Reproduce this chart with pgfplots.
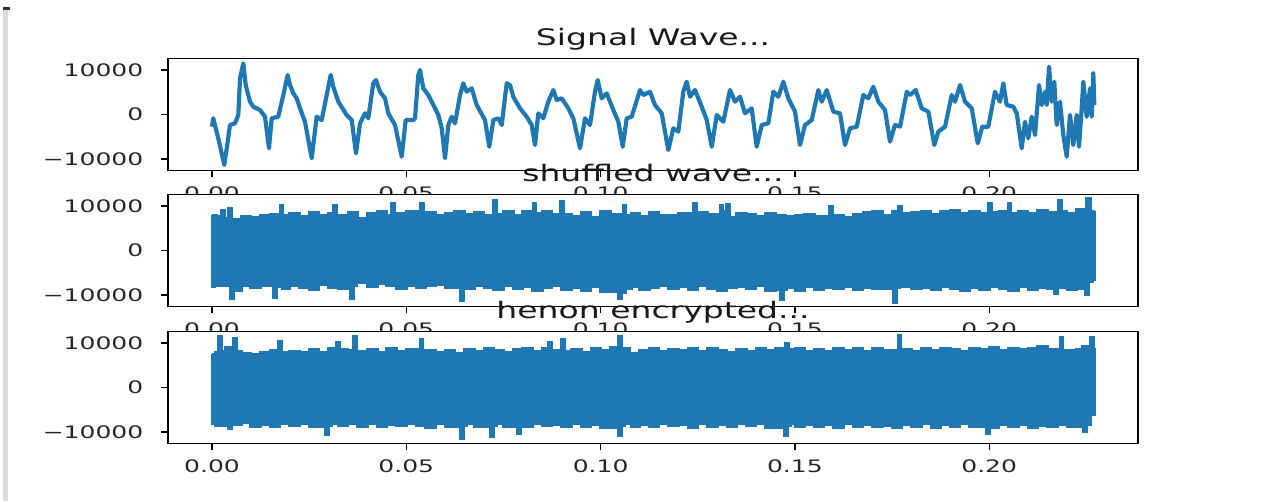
\documentclass[border=0pt]{standalone}
\usepackage{fontspec}
\setmainfont{DejaVu Sans}[FakeStretch=1.45]
\usepackage{pgfplots}
\pgfplotsset{compat=1.18}
\definecolor{mplblue}{HTML}{1F77B4}

% one strip of the figure, positions in pt (1 px = 0.36pt)
\pgfplotsset{panel/.style={
  scale only axis, width=349.2pt, height=40.32pt, anchor=south west,
  xmin=-11.32, xmax=238.29, ymin=-12584, ymax=12584,
  scaled ticks=false,
  xtick={0,50,100,150,200}, xticklabels={0.00,0.05,0.10,0.15,0.20},
  ytick={-10000,0,10000}, yticklabels={−10000,0,10000},
  tick align=outside, tick pos=left, major tick length=2.4pt,
  tick style={black, line width=0.5pt},
  axis line style={line width=0.6pt},
  ticklabel style={font=\fontsize{6.2}{7}\selectfont, text=black!85},
  yticklabel style={xshift=-3pt},
  every axis title/.style={at={(0.5,1)}, anchor=base, yshift=4.8pt,
    font=\fontsize{8.2}{10}\selectfont, text=black!90},
  axis background/.style={fill=white},
}}

\begin{document}
\begin{tikzpicture}
\useasboundingbox (0,0) rectangle (460.08pt,180.36pt);
\fill[black!14] (1.2pt,0) rectangle (3.0pt,176.8pt);
\fill[black!80] (1.2pt,176.8pt) rectangle (3.6pt,177.9pt);

% --- original signal (time in ms) ---
\begin{axis}[panel, at={(60.48pt,118.98pt)}, title={Signal Wave...}]
\addplot[mplblue, line width=1.5pt, line join=round] coordinates {
(0,-2740) (0.33,-850) (1.62,-5350) (3.17,-11350) (4.04,-6100) (4.63,-2360)
(5.92,-1980) (6.77,-110) (7.21,8130) (8.05,11500) (8.67,6630) (9.78,2880)
(10.63,1750) (12.35,1010) (13.64,-490) (14.67,-7600) (15.36,-850) (17.06,-490)
(18.35,4380) (19.48,8880) (20.07,6630) (20.92,4760) (21.80,3640) (22.65,1390)
(23.93,-1620) (25.66,-9840) (26.94,-490) (28.23,-1240) (29.52,4380) (30.55,8880)
(31.21,6250) (32.50,2880) (34.66,-110) (35.95,-1240) (37.06,-8720) (38.09,-1980)
(39.37,270) (40.22,-850) (41.51,7010) (42.20,7750) (43.23,5120) (44.52,3640)
(45.37,270) (47.09,-2360) (48.82,-9480) (49.85,-1240) (51.80,-1240)
(52.24,-850) (53.09,8880) (53.53,10000) (54.38,5890) (55.67,4380) (56.96,2130)
(58.24,-110) (59.12,-3100) (59.97,-9840) (60.82,-2360) (61.69,-490) (62.54,-1980)
(63.83,4380) (64.67,7010) (65.55,5120) (66.83,5890) (68.12,2130) (70.25,-1240)
(71.36,-7240) (72.39,-1240) (73.68,-850) (74.55,-2360) (75.84,7010) (76.69,6630)
(77.53,4000) (79.26,1390) (80.98,-490) (82.27,-2360) (83.12,-6850) (83.97,270)
(85.26,-850) (86.54,2880) (87.83,5500) (88.71,3260) (89.99,3640) (91.69,1390)
(92.98,-850) (94.70,-7600) (95.99,-850) (97.27,-2360) (98.56,5120) (99.25,7750)
(100.28,3640) (101.57,4760) (103.27,1010) (104.56,-1620) (105.69,-7240) (106.72,-850)
(108.00,-490) (110.14,5500) (110.99,4380) (112.71,5120) (114.0,2130) (115.72,270)
(117.42,-7980) (118.71,-3100) (119.99,-3860) (121.28,5120) (122.16,7370) (123.01,4000)
(124.29,5500) (126.02,1750) (127.31,-1240) (128.59,-7240) (129.88,-110) (131.58,-1620)
(133.30,5500) (134.59,2880) (135.87,4000) (137.16,270) (138.88,1390) (140.17,-7240)
(141.46,-2360) (143.16,-1980) (144.44,5120) (145.73,4000) (147.02,7370) (148.31,3640)
(150.03,630) (151.31,-6850) (152.60,-2360) (154.33,-1240) (156.03,5500) (156.90,2880)
(158.19,5500) (159.89,630) (161.61,270) (162.89,-6850) (164.18,-3100) (165.91,-2740)
(167.60,4380) (168.89,3640) (170.18,6250) (171.47,2880) (173.19,1010) (174.47,-6100)
(175.76,-2360) (177.06,-2700) (178.79,5120) (179.62,4380) (181.09,5500) (182.63,1390)
(184.33,630) (185.88,-6850) (186.91,-3860) (188.63,-2740) (190.35,4380) (191.21,2880)
(192.49,6630) (193.78,2880) (195.50,1390) (197.04,-6470) (198.22,-2740) (199.77,-2740)
(201.49,5120) (202.78,2880) (203.63,7010) (204.50,2130) (206.20,1750) (207.08,270)
(208.36,-7600) (209.21,-1620) (210.06,-5350) (210.94,-490) (211.79,-4610) (212.82,6630)
(213.51,2130) (214.36,5120) (214.80,2130) (215.39,10740) (216.08,2880) (216.75,7370)
(217.37,-2360) (218.22,2880) (219.06,-4610) (219.94,-9480) (220.79,-110) (221.64,-6850)
(222.51,-110) (223.11,-7240) (223.80,1390) (224.22,7370) (225.08,-490) (225.94,5890)
(226.37,-490) (226.79,9260) (227.05,2130)
};
\end{axis}

% --- shuffled wave: dense trace drawn as its envelope (upper left->right, lower right->left) ---
\begin{axis}[panel, at={(60.48pt,70.02pt)}, title={shuffled wave...}]
\addplot[mplblue, fill=mplblue, line width=1pt, const plot] coordinates {
(0,7900) (1.2,7600) (2.5,9100) (3.2,7200) (4.2,9500) (5,7000) (7.5,7600) (10,7400)
(12.5,7900) (15,8200) (17.5,10200) (18.2,7800) (20,8300) (22.5,7700) (25,8600)
(27.5,7900) (30,8400) (31.2,10200) (32,8000) (35,8500) (37.5,7300) (40,8300)
(42.5,8800) (45,8000) (46.2,10600) (47,8400) (50,8700) (52.5,8900) (53.5,10600)
(54.5,8500) (57.5,7800) (60,8300) (62.5,8900) (65,8100) (67.5,8600) (70,8000)
(72.4,11350) (73.2,8200) (75,8700) (77.5,7900) (80,8800) (82.7,10600) (83.4,8300)
(85,8900) (87.5,8200) (89.6,11000) (90.4,8100) (92.5,7700) (95,8600) (97.5,7500)
(100,8800) (102.5,8200) (105.8,10200) (106.5,7900) (108,8300) (110,7600) (112.5,8600)
(115,8000) (117.5,7800) (120,8400) (123.9,10700) (124.6,8500) (127.5,8100)
(130.7,10200) (131.3,8700) (132.4,10300) (133.2,7400) (135,8400) (137.5,8100)
(140,7600) (142.5,8300) (145,8000) (147.5,7600) (150,7800) (152.5,8200) (155,7700)
(158.9,9900) (159.6,7900) (162.5,7400) (165,8100) (167.5,8600) (170,8900) (172.5,8000)
(175,8700) (176.7,9900) (177.4,8300) (180,8600) (182.5,8900) (185,8200) (187.5,8700)
(190,9000) (192.5,8300) (195,8800) (197.5,8400) (199.8,10600) (200.5,8500) (202.5,8800)
(204.9,10600) (205.6,8300) (207.5,8900) (210,8400) (212.5,9100) (215,8600)
(217.8,11350) (218.6,8900) (220,8300) (222.5,9200) (225.1,11700) (226,8700) (227,8900)
(227,-6500) (226.5,-7000) (225.5,-9800) (224.7,-8600) (222.5,-8800) (220,-8300)
(217.5,-9600) (216.7,-8500) (215,-8400) (212.5,-8700) (210,-8200) (207.5,-8900)
(205,-8600) (202.5,-8100) (200,-8700) (197.5,-8300) (195,-8900) (192.5,-8500)
(190,-8100) (187.5,-8800) (185,-8300) (182.5,-8600) (180,-8200) (177,-8400)
(176.2,-11600) (175.4,-8600) (172.5,-8600) (170,-8300) (167.5,-8800) (165,-8100)
(162.5,-8600) (160,-8300) (157.5,-8700) (155,-8200) (152.5,-9000) (150,-8400)
(147.8,-8700) (147,-11100) (146.2,-8800) (145,-8900) (142.5,-8000) (140,-8600)
(137.5,-8100) (135,-8300) (132.5,-8900) (130,-8500) (127.5,-8000) (125,-8800)
(122.5,-8200) (120,-8600) (117.5,-8000) (115,-8300) (112.5,-8700) (110,-8100)
(108,-8600) (106.5,-9500) (105.4,-10900) (104.6,-9200) (102.5,-9300) (100,-8200)
(97.5,-8900) (95,-8300) (92.5,-8700) (90,-8000) (87.5,-8400) (85,-8900) (82.5,-8200)
(80,-8600) (77.5,-8000) (75,-8800) (72.5,-8300) (70,-7800) (67.5,-8500) (65.5,-8000)
(64.7,-11300) (63.9,-8300) (62.5,-8300) (60,-7700) (57.5,-8000) (55,-8400)
(52.5,-7900) (50,-8600) (47.5,-8000) (45,-7400) (42.5,-8100) (40,-7300) (37.2,-8000)
(36.4,-10900) (35.6,-8500) (35,-8500) (32.5,-8300) (30,-7600) (27.5,-8800) (25,-8300)
(22.5,-7800) (20,-8500) (18,-8100) (16.6,-10500) (15.8,-7900) (15,-7900) (12.5,-8400)
(10,-8000) (7.5,-9000) (6.2,-8300) (5.5,-10700) (4.7,-8000) (2.5,-8000) (0.8,-8200)
(0,-6500) (0,7900)
};
\end{axis}

% --- henon encrypted: dense trace drawn as its envelope ---
\begin{axis}[panel, at={(60.48pt,20.7pt)}, title={henon encrypted...}]
\addplot[mplblue, fill=mplblue, line width=1pt, const plot] coordinates {
(0,7500) (0.8,8000) (1.63,11500) (2.4,8200) (3.5,9000) (5.49,11100) (6.3,8100)
(7.5,7600) (10,7400) (12.5,7900) (15,8300) (17.1,10400) (17.9,8000) (20,8200)
(22.5,7800) (25,8500) (27.5,7900) (30,8700) (32.1,10200) (32.9,8500) (35,8300)
(36.4,11500) (37.2,8200) (40,8600) (42.5,7900) (45,8700) (47.5,8200) (50,8500)
(53.5,10800) (54.3,8400) (57.5,8000) (60,8300) (62.5,7700) (65,8600) (67.5,8100)
(70,8700) (72.5,8300) (75,7900) (77.5,8600) (80,8900) (82.5,8200) (85,8700)
(86.5,10200) (87.3,8400) (90,10800) (90.8,8100) (92.5,8500) (95,8000) (97.5,8800)
(100,8300) (102.5,9000) (104.6,11500) (105.4,8700) (107.5,7700) (110,8400)
(112.5,8800) (115,8100) (117.5,8600) (120,8300) (122.5,8900) (125,8200) (127.5,8700)
(130,8400) (132.5,8000) (135,8600) (137.5,8200) (140,8700) (142.5,8300) (145,8900)
(147.5,10000) (148.3,8500) (150,8800) (152.5,8200) (155,8600) (157.5,8100) (160,8800)
(162.5,8400) (165,8900) (167.5,8200) (170,8700) (172.5,8400) (176.5,11800)
(177.3,8600) (180,8100) (182.5,8700) (185,8300) (187.5,8900) (190,8500) (192.5,8200)
(195,8800) (197.5,8600) (200,9100) (202.5,8300) (205,8800) (207.5,8500) (210,8700)
(212.5,9200) (215,8600) (218.2,11200) (219,8400) (222.5,8600) (224,9300)
(226,11300) (226.8,8500) (227,7000)
(227,-6000) (226,-8400) (225,-9800) (224.2,-8700) (222.5,-8700) (220,-8300)
(217.5,-8800) (215,-8500) (212.5,-8900) (210,-8400) (207.5,-8700) (205,-8300)
(202.5,-8900) (200.8,-8500) (200,-10300) (199.2,-8800) (197.5,-8800) (195,-8200)
(192.5,-8700) (190,-8400) (187.5,-8900) (185,-8200) (182.5,-8700) (180,-8300)
(177.5,-8900) (175,-8500) (172.5,-8800) (170,-8300) (167.5,-8700) (165,-8200)
(162.5,-8900) (160,-8400) (157.5,-8800) (155,-8300) (152.5,-8700) (150,-8100)
(148.8,-8500) (148,-10700) (147.2,-8900) (145,-8900) (142.5,-8200) (140,-8600)
(137.5,-8100) (135,-8800) (132.5,-8400) (130,-8700) (127.5,-8200) (125,-8900)
(122.5,-8300) (120,-8600) (117.5,-8000) (115,-8700) (112.5,-8300) (110,-8800)
(108,-8100) (106.2,-8600) (105.4,-10700) (104.6,-8900) (102.5,-8900) (100,-8400)
(97.5,-8700) (95,-8200) (92.5,-8800) (90,-8300) (87.5,-8600) (85,-8100) (82.5,-8800)
(80.1,-8400) (79.3,-10300) (78.5,-8700) (77.5,-8700) (75,-8000) (73.2,-8500)
(72.4,-11000) (71.6,-8700) (70,-8700) (67.5,-8200) (65.5,-8600) (64.7,-11400)
(63.9,-8700) (62.5,-8700) (60,-8200) (57.5,-8900) (55,-8500) (52.5,-8000) (50,-8600)
(47.5,-8300) (45,-8700) (42.5,-8100) (40,-8800) (37.5,-8200) (35,-8600) (32.5,-8000)
(30.7,-8500) (29.9,-10600) (29.1,-8700) (27.5,-8700) (25,-8200) (22.5,-8600)
(20,-8100) (17.5,-8800) (15,-8300) (12.5,-8700) (10,-7900) (7.5,-8400) (5.8,-8000)
(5.06,-9300) (4.3,-8500) (2.5,-8500) (0.8,-8200) (0,-6500) (0,7500)
};
\end{axis}
\end{tikzpicture}
\end{document}
